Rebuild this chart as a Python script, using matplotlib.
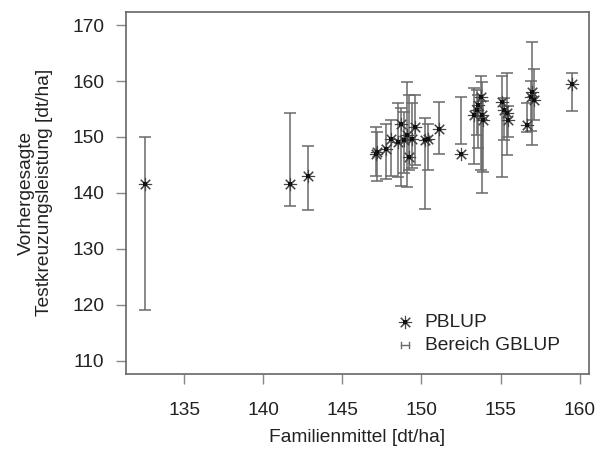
import matplotlib
matplotlib.use("Agg")
import matplotlib.pyplot as plt
import numpy as np

plt.rcParams['font.family'] = ['Liberation Sans', 'DejaVu Sans']

# Familienmittel [dt/ha]
fam_mean = [132.5, 141.65, 142.8, 147.1, 147.2, 147.75, 148.06, 148.5, 148.7, 148.9,
            149.1, 149.2, 149.4, 149.6, 150.2, 150.4, 151.1, 152.5, 153.3, 153.5,
            153.75, 153.85, 153.9, 153.6, 155.1, 155.2, 155.4, 155.5, 156.7, 157.0,
            157.1, 156.9, 159.5]
# PBLUP prediction
pblup = [141.65, 141.5, 143.0, 147.0, 147.3, 147.9, 149.7, 149.1, 152.4, 149.4,
         150.3, 146.4, 149.7, 151.8, 149.4, 149.7, 151.5, 147.0, 153.9, 154.8,
         157.2, 153.9, 153.0, 155.7, 156.3, 154.8, 154.2, 153.0, 152.1, 158.1,
         156.6, 157.2, 159.4]
# GBLUP range (min, max)
gblup_lo = [119.0, 137.6, 137.0, 143.1, 142.2, 142.5, 143.0, 142.8, 141.3, 143.5,
            141.0, 144.0, 144.5, 145.0, 137.2, 144.0, 147.0, 148.8, 145.2, 150.3,
            144.0, 139.9, 143.7, 148.0, 142.8, 149.4, 146.7, 150.0, 150.9, 148.5,
            153.0, 151.0, 154.6]
gblup_hi = [149.9, 154.3, 148.4, 151.8, 150.9, 152.4, 153.0, 156.0, 155.1, 154.5,
            159.85, 157.5, 156.0, 157.5, 153.3, 152.4, 156.3, 157.2, 158.8, 158.4,
            160.9, 159.9, 156.5, 157.5, 160.9, 157.0, 161.5, 155.5, 156.0, 167.0,
            162.1, 160.0, 161.5]

x = np.array(fam_mean)
y = np.array(pblup)
lo = np.array(gblup_lo)
hi = np.array(gblup_hi)

FS = 13.8
TXT = '#222222'

fig = plt.figure(figsize=(6.03, 4.49), dpi=100)
ax = fig.add_axes([126/603, 1-374/449, 463/603, 362.3/449])

bar_col = '#6a6a6a'
ax.errorbar(x, (lo+hi)/2, yerr=(hi-lo)/2, fmt='none', ecolor=bar_col,
            elinewidth=1.1, capsize=4, capthick=1.1)
star = (8, 2, 0)
MS = 9.5
ax.plot(x, y, linestyle='none', marker=star, markersize=MS, markeredgewidth=0.8,
        color='#444444')
ax.plot(x, y, linestyle='none', marker='s', markersize=2.2, markeredgewidth=0,
        color='#111111')

ax.set_xlim(131.3, 160.6)
ax.set_ylim(107.6, 172.4)
ax.set_xticks([135, 140, 145, 150, 155, 160])
ax.set_yticks([110, 120, 130, 140, 150, 160, 170])

for s in ax.spines.values():
    s.set_color('#666666')
    s.set_linewidth(1.2)
ax.tick_params(axis='both', direction='out', length=7.5, width=1.0,
               color='#888888', labelsize=FS, labelcolor=TXT)
ax.tick_params(axis='x', pad=13)
ax.tick_params(axis='y', pad=8)

ax.set_xlabel('Familienmittel [dt/ha]', fontsize=FS, color=TXT, labelpad=7)
ax.set_ylabel('Vorhergesagte\nTestkreuzungsleistung [dt/ha]', fontsize=FS,
              color=TXT, labelpad=14, linespacing=1.05)

# legend (manual)
tr = ax.transAxes
ax.plot([0.603], [0.1435], transform=tr, marker=star, markersize=MS,
        markeredgewidth=0.8, color='#444444', linestyle='none', clip_on=False)
ax.plot([0.603], [0.1435], transform=tr, marker='s', markersize=2.2,
        markeredgewidth=0, color='#111111', linestyle='none')
ax.plot([0.595, 0.611], [0.080, 0.080], transform=tr, color=bar_col, lw=1.0)
ax.plot([0.595, 0.595], [0.072, 0.088], transform=tr, color=bar_col, lw=1.0)
ax.plot([0.611, 0.611], [0.072, 0.088], transform=tr, color=bar_col, lw=1.0)
ax.text(0.645, 0.1435, 'PBLUP', transform=tr, fontsize=FS, color=TXT,
        va='center', ha='left')
ax.text(0.645, 0.080, 'Bereich GBLUP', transform=tr, fontsize=FS, color=TXT,
        va='center', ha='left')

fig.savefig('out.png', dpi=100)
